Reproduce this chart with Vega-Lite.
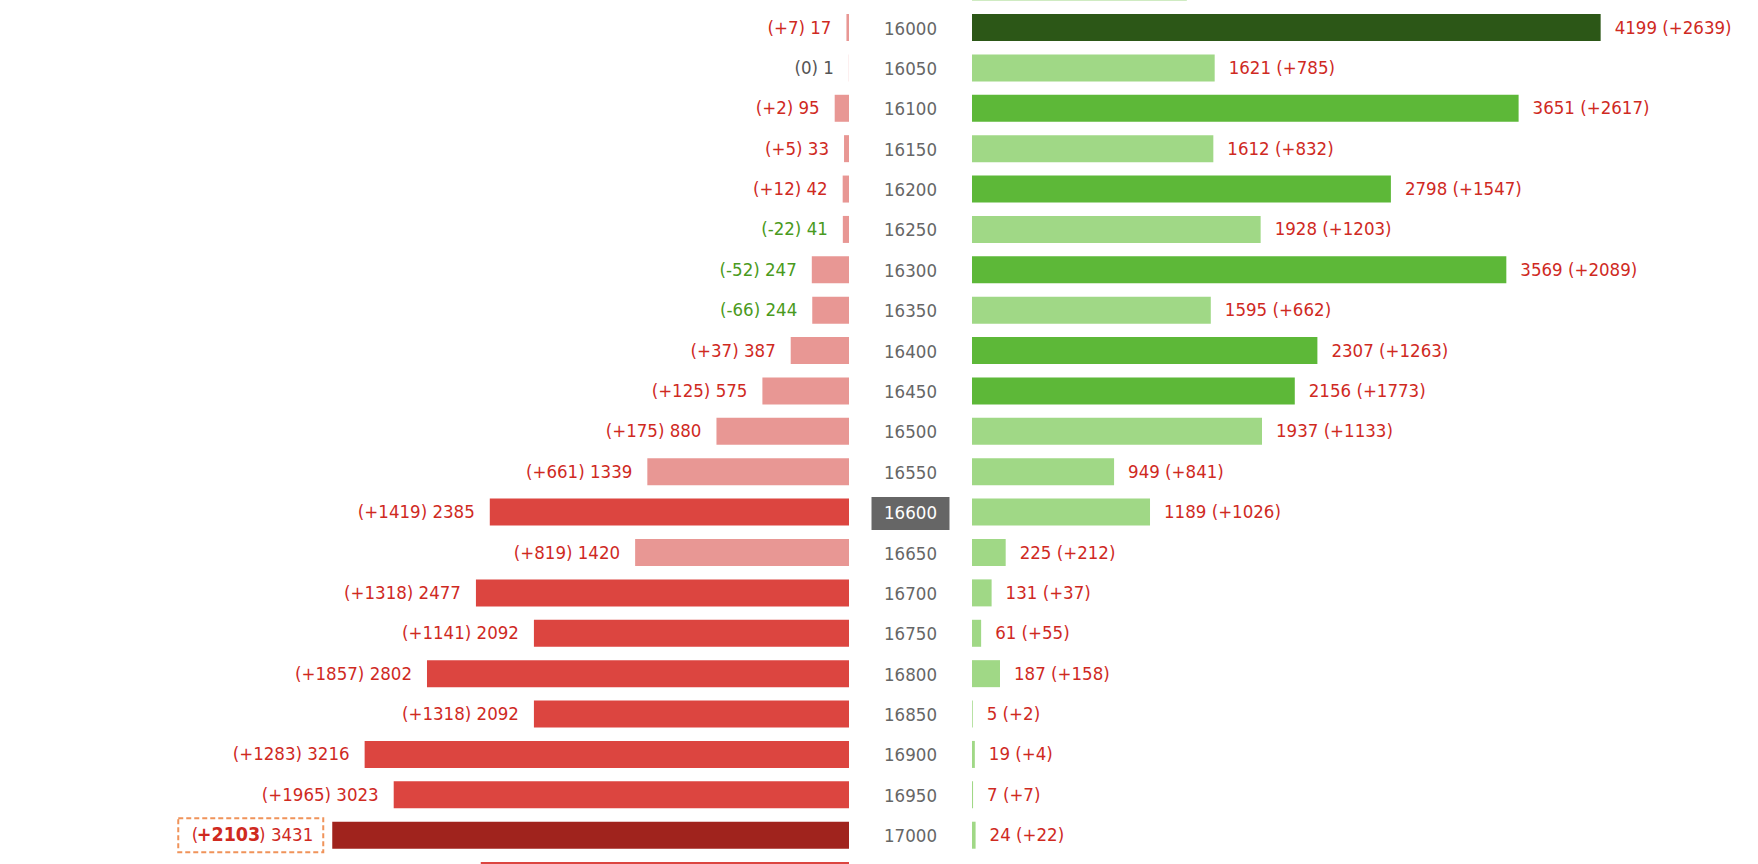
{
  "$schema": "https://vega.github.io/schema/vega-lite/v6.json",
  "padding": 0,
  "background": "white",
  "config": {
    "view": {"stroke": null},
    "concat": {"spacing": 0},
    "text": {"font": "DejaVu Sans Condensed, Liberation Sans, sans-serif", "fontSize": 18.5}
  },
  "datasets": {
    "rows": [
      {"strike": 15950, "call_oi": 1435},
      {"strike": 16000, "put_oi": 17, "put_chg": 7, "call_oi": 4199, "call_chg": 2639},
      {"strike": 16050, "put_oi": 1, "put_chg": 0, "call_oi": 1621, "call_chg": 785},
      {"strike": 16100, "put_oi": 95, "put_chg": 2, "call_oi": 3651, "call_chg": 2617},
      {"strike": 16150, "put_oi": 33, "put_chg": 5, "call_oi": 1612, "call_chg": 832},
      {"strike": 16200, "put_oi": 42, "put_chg": 12, "call_oi": 2798, "call_chg": 1547},
      {"strike": 16250, "put_oi": 41, "put_chg": -22, "call_oi": 1928, "call_chg": 1203},
      {"strike": 16300, "put_oi": 247, "put_chg": -52, "call_oi": 3569, "call_chg": 2089},
      {"strike": 16350, "put_oi": 244, "put_chg": -66, "call_oi": 1595, "call_chg": 662},
      {"strike": 16400, "put_oi": 387, "put_chg": 37, "call_oi": 2307, "call_chg": 1263},
      {"strike": 16450, "put_oi": 575, "put_chg": 125, "call_oi": 2156, "call_chg": 1773},
      {"strike": 16500, "put_oi": 880, "put_chg": 175, "call_oi": 1937, "call_chg": 1133},
      {"strike": 16550, "put_oi": 1339, "put_chg": 661, "call_oi": 949, "call_chg": 841},
      {"strike": 16600, "put_oi": 2385, "put_chg": 1419, "call_oi": 1189, "call_chg": 1026},
      {"strike": 16650, "put_oi": 1420, "put_chg": 819, "call_oi": 225, "call_chg": 212},
      {"strike": 16700, "put_oi": 2477, "put_chg": 1318, "call_oi": 131, "call_chg": 37},
      {"strike": 16750, "put_oi": 2092, "put_chg": 1141, "call_oi": 61, "call_chg": 55},
      {"strike": 16800, "put_oi": 2802, "put_chg": 1857, "call_oi": 187, "call_chg": 158},
      {"strike": 16850, "put_oi": 2092, "put_chg": 1318, "call_oi": 5, "call_chg": 2},
      {"strike": 16900, "put_oi": 3216, "put_chg": 1283, "call_oi": 19, "call_chg": 4},
      {"strike": 16950, "put_oi": 3023, "put_chg": 1965, "call_oi": 7, "call_chg": 7},
      {"strike": 17000, "put_oi": 3431, "put_chg": 2103, "call_oi": 24, "call_chg": 22},
      {"strike": 17050, "put_oi": 2445}
    ]
  },
  "data": {"name": "rows"},
  "transform": [
    {"joinaggregate": [
      {"op": "max", "field": "put_oi", "as": "put_max"},
      {"op": "max", "field": "call_oi", "as": "call_max"},
      {"op": "max", "field": "put_chg", "as": "put_chg_max"}
    ]},
    {"calculate": "'(' + (datum.put_chg > 0 ? '+' : '') + datum.put_chg + ') ' + datum.put_oi", "as": "put_label"},
    {"calculate": "datum.call_oi + ' (' + (datum.call_chg > 0 ? '+' : '') + datum.call_chg + ')'", "as": "call_label"},
    {"calculate": "') ' + datum.put_oi", "as": "put_tail"},
    {"calculate": "(datum.put_chg > 0 ? '+' : '') + datum.put_chg", "as": "put_chg_text"}
  ],
  "hconcat": [
    {
      "width": 849,
      "height": 864,
      "encoding": {
        "y": {"field": "strike", "type": "quantitative", "scale": {"domain": [15965.95, 17035.65], "reverse": true, "nice": false, "zero": false, "padding": 0}, "axis": null},
        "x": {"field": "put_oi", "type": "quantitative", "stack": null, "scale": {"domain": [0, 5637], "reverse": true, "nice": false, "padding": 0}, "axis": null}
      },
      "layer": [
        {
          "mark": {"type": "bar", "orient": "horizontal", "size": 27, "clip": true},
          "encoding": {
            "color": {"condition": [
              {"test": "datum.put_oi == datum.put_max", "value": "#a0231d"},
              {"test": "datum.put_oi >= datum.put_max / 2", "value": "#dc4540"}
            ], "value": "#e89794"}
          }
        },
        {
          "transform": [{"filter": "isValid(datum.put_chg) && datum.put_chg != datum.put_chg_max"}],
          "mark": {"type": "text", "align": "right", "baseline": "middle", "dx": -15},
          "encoding": {
            "text": {"field": "put_label"},
            "color": {"condition": [
              {"test": "datum.put_chg > 0", "value": "#cf2a1f"},
              {"test": "datum.put_chg < 0", "value": "#4a9a20"}
            ], "value": "#555555"}
          }
        },
        {
          "transform": [{"filter": "datum.put_chg == datum.put_chg_max"}],
          "mark": {"type": "text", "align": "right", "baseline": "middle", "dx": -19, "color": "#cf2a1f"},
          "encoding": {"text": {"field": "put_tail"}}
        },
        {
          "transform": [{"filter": "datum.put_chg == datum.put_chg_max"}],
          "mark": {"type": "text", "align": "right", "baseline": "middle", "dx": -72, "fontWeight": "bold", "fontSize": 19.5, "color": "#cf2a1f"},
          "encoding": {"text": {"field": "put_chg_text"}}
        },
        {
          "transform": [{"filter": "datum.put_chg == datum.put_chg_max"}],
          "mark": {"type": "text", "align": "right", "baseline": "middle", "dx": -134, "color": "#cf2a1f", "text": "("},
          "encoding": {}
        },
        {
          "transform": [{"filter": "datum.put_chg == datum.put_chg_max"}],
          "mark": {"type": "rect", "fillOpacity": 0, "stroke": "#f0935a", "strokeWidth": 2, "strokeDash": [5, 3], "xOffset": -154, "x2Offset": -9, "yOffset": -17, "y2Offset": 17},
          "encoding": {
            "x2": {"field": "put_oi"},
            "y2": {"field": "strike"}
          }
        }
      ]
    },
    {
      "width": 123,
      "height": 864,
      "layer": [
        {
          "transform": [{"filter": "datum.strike == 16600"}],
          "mark": {"type": "rect", "fill": "#666666", "yOffset": -15, "y2Offset": 18},
          "encoding": {
            "x": {"datum": -0.634, "type": "quantitative", "scale": {"domain": [-1, 1], "padding": 0}, "axis": null},
            "x2": {"datum": 0.634},
            "y": {"field": "strike", "type": "quantitative", "scale": {"domain": [15965.95, 17035.65], "reverse": true, "nice": false, "zero": false, "padding": 0}, "axis": null},
            "y2": {"field": "strike"}
          }
        },
        {
          "transform": [{"filter": "isValid(datum.put_chg)"}],
          "mark": {"type": "text", "baseline": "middle", "dy": 1},
          "encoding": {
            "x": {"datum": 0, "type": "quantitative", "scale": {"domain": [-1, 1], "padding": 0}, "axis": null},
            "y": {"field": "strike", "type": "quantitative", "scale": {"domain": [15965.95, 17035.65], "reverse": true, "nice": false, "zero": false, "padding": 0}, "axis": null},
            "text": {"field": "strike", "type": "nominal"},
            "color": {"condition": {"test": "datum.strike == 16600", "value": "#ffffff"}, "value": "#666666"}
          }
        }
      ]
    },
    {
      "width": 786,
      "height": 864,
      "encoding": {
        "y": {"field": "strike", "type": "quantitative", "scale": {"domain": [15965.95, 17035.65], "reverse": true, "nice": false, "zero": false, "padding": 0}, "axis": null},
        "x": {"field": "call_oi", "type": "quantitative", "stack": null, "scale": {"domain": [0, 5250], "nice": false, "padding": 0}, "axis": null}
      },
      "layer": [
        {
          "mark": {"type": "bar", "orient": "horizontal", "size": 27, "clip": true},
          "encoding": {
            "color": {"condition": [
              {"test": "datum.call_oi == datum.call_max", "value": "#2c5717"},
              {"test": "datum.call_oi >= datum.call_max / 2", "value": "#5db838"}
            ], "value": "#a0d886"}
          }
        },
        {
          "transform": [{"filter": "isValid(datum.call_chg)"}],
          "mark": {"type": "text", "align": "left", "baseline": "middle", "dx": 14},
          "encoding": {
            "text": {"field": "call_label"},
            "color": {"condition": [
              {"test": "datum.call_chg > 0", "value": "#cf2a1f"},
              {"test": "datum.call_chg < 0", "value": "#4a9a20"}
            ], "value": "#555555"}
          }
        }
      ]
    }
  ]
}
